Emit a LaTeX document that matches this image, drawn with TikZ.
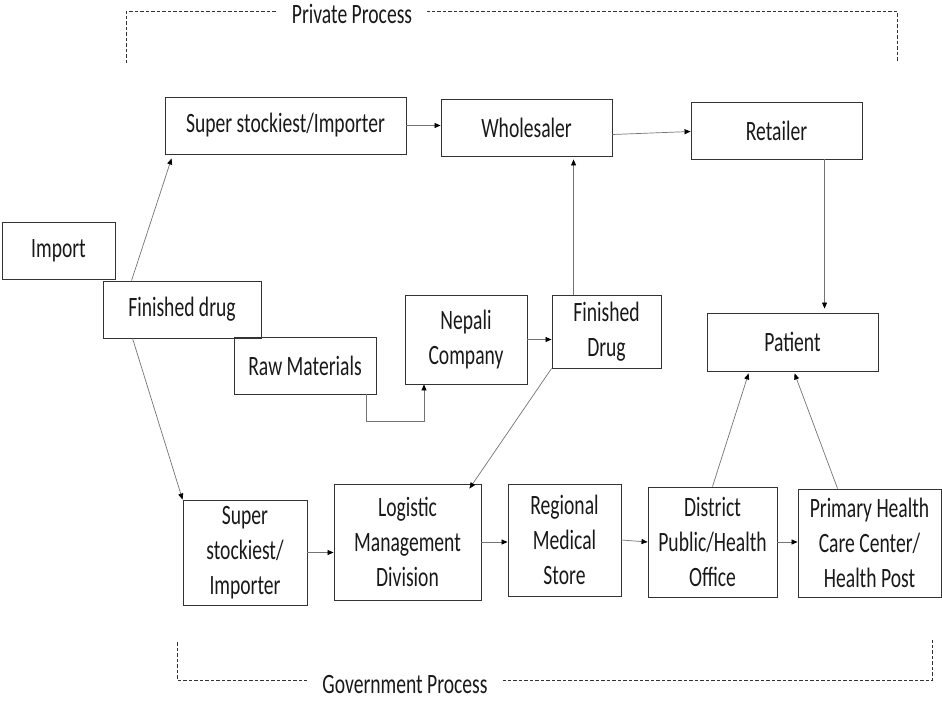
\documentclass[tikz,border=0pt]{standalone}
\usepackage{fontspec}
\setmainfont{Carlito}[FakeStretch=0.7]
\usetikzlibrary{arrows.meta,calc}
\begin{document}
\begin{tikzpicture}[x=1pt,y=-1pt,
    box/.style={rectangle,draw=black!80,line width=0.9pt,align=center,inner sep=0pt,
        font=\fontsize{28}{35}\selectfont,text=black!90},
    arr/.style={draw=black!55,line width=0.7pt,-{Triangle[length=6pt,width=5pt,color=black]}},
    brk/.style={draw=black!80,line width=1pt,dash pattern=on 3.5pt off 2pt},
    lbl/.style={fill=white,inner xsep=15pt,inner ysep=1pt,
        font=\fontsize{28}{35}\selectfont,text=black!90}]
    \useasboundingbox (0,0) rectangle (942,702);

    % private side
    \node[box,minimum width=241,minimum height=57] (sup1) at (285.5,125.5) {Super stockiest/Importer};
    \node[box,minimum width=171,minimum height=57] (whl) at (526.5,127.5) {Wholesaler};
    \node[box,minimum width=171,minimum height=57] (ret) at (776.5,130.5) {Retailer};

    \node[box,minimum width=113,minimum height=57] (imp) at (58.5,250.5) {Import};
    \node[box,minimum width=158,minimum height=57] (fin) at (182,309.5) {Finished drug};
    \node[box,minimum width=142,minimum height=57] (raw) at (305,365.5) {Raw Materials};
    \node[box,minimum width=122,minimum height=89] (nep) at (466,339.5) {Nepali\\Company};
    \node[box,minimum width=109,minimum height=73] (fdr) at (606.5,331.5) {Finished\\Drug};
    \node[box,minimum width=171,minimum height=58] (pat) at (792.5,342) {Patient};

    % government side
    \node[box,minimum width=124,minimum height=105] (sup2) at (245,552.5) {Super\\stockiest/\\Importer};
    \node[box,minimum width=147,minimum height=116] (lmd) at (407.5,542) {Logistic\\Management\\Division};
    \node[box,minimum width=113,minimum height=112] (rms) at (564.5,540) {Regional\\Medical\\Store};
    \node[box,minimum width=129,minimum height=110] (dpo) at (712.5,542) {District\\Public/Health\\Office};
    \node[box,minimum width=143,minimum height=108] (phc) at (869.5,543) {Primary Health\\Care Center/\\Health Post};

    \coordinate (rn) at (424,421);
    \coordinate (fw) at ($(fdr.north west)+(22,0)$);
    \coordinate (rp) at ($(ret.south west)+(134,0)$);

    \path ($(fin.north west)+(29,0)$) edge[arr] ($(sup1.south west)+(7,4)$);
    \path ($(fin.south west)+(30,0)$) edge[arr] (sup2.north west);
    \draw [arr] ($(raw.south east)+(-10,0)$) |- (rn) -- (rn |- nep.south);
    \path (nep.east) edge[arr] (nep.east -| fdr.west);
    \path (fw) edge[arr,shorten >=3pt] (fw |- whl.south);
    \path (fdr.south west) edge[arr] ($(lmd.north east)+(-12,5)$);

    \path (sup1.east) edge[arr] (sup1.east -| whl.west);
    \path ($(whl.east)+(0,7)$) edge[arr] ($(ret.west)+(0,1)$);
    \path (rp) edge[arr,shorten >=4pt] (rp |- pat.north);

    \path (sup2.east) edge[arr] (sup2.east -| lmd.west);
    \path (lmd.east) edge[arr] (lmd.east -| rms.west);
    \path (rms.east) edge[arr] (dpo.west);
    \path (dpo.east) edge[arr] (dpo.east -| phc.west);
    \path (dpo.north) edge[arr] ($(pat.south west)+(42,2)$);
    \path ($(phc.north west)+(40,0)$) edge[arr] ($(pat.south west)+(88,2)$);

    % brackets
    \draw [brk] (126,63) -- (126,11) -- (897,11) -- (897,62);
    \draw [brk] (177,642) -- (177,680) -- (932,680) -- (932,640);
    \node[lbl] (prv) at (352,14) {Private Process};
    \node[lbl] (gov) at (405,685) {Government Process};
\end{tikzpicture}
\end{document}
